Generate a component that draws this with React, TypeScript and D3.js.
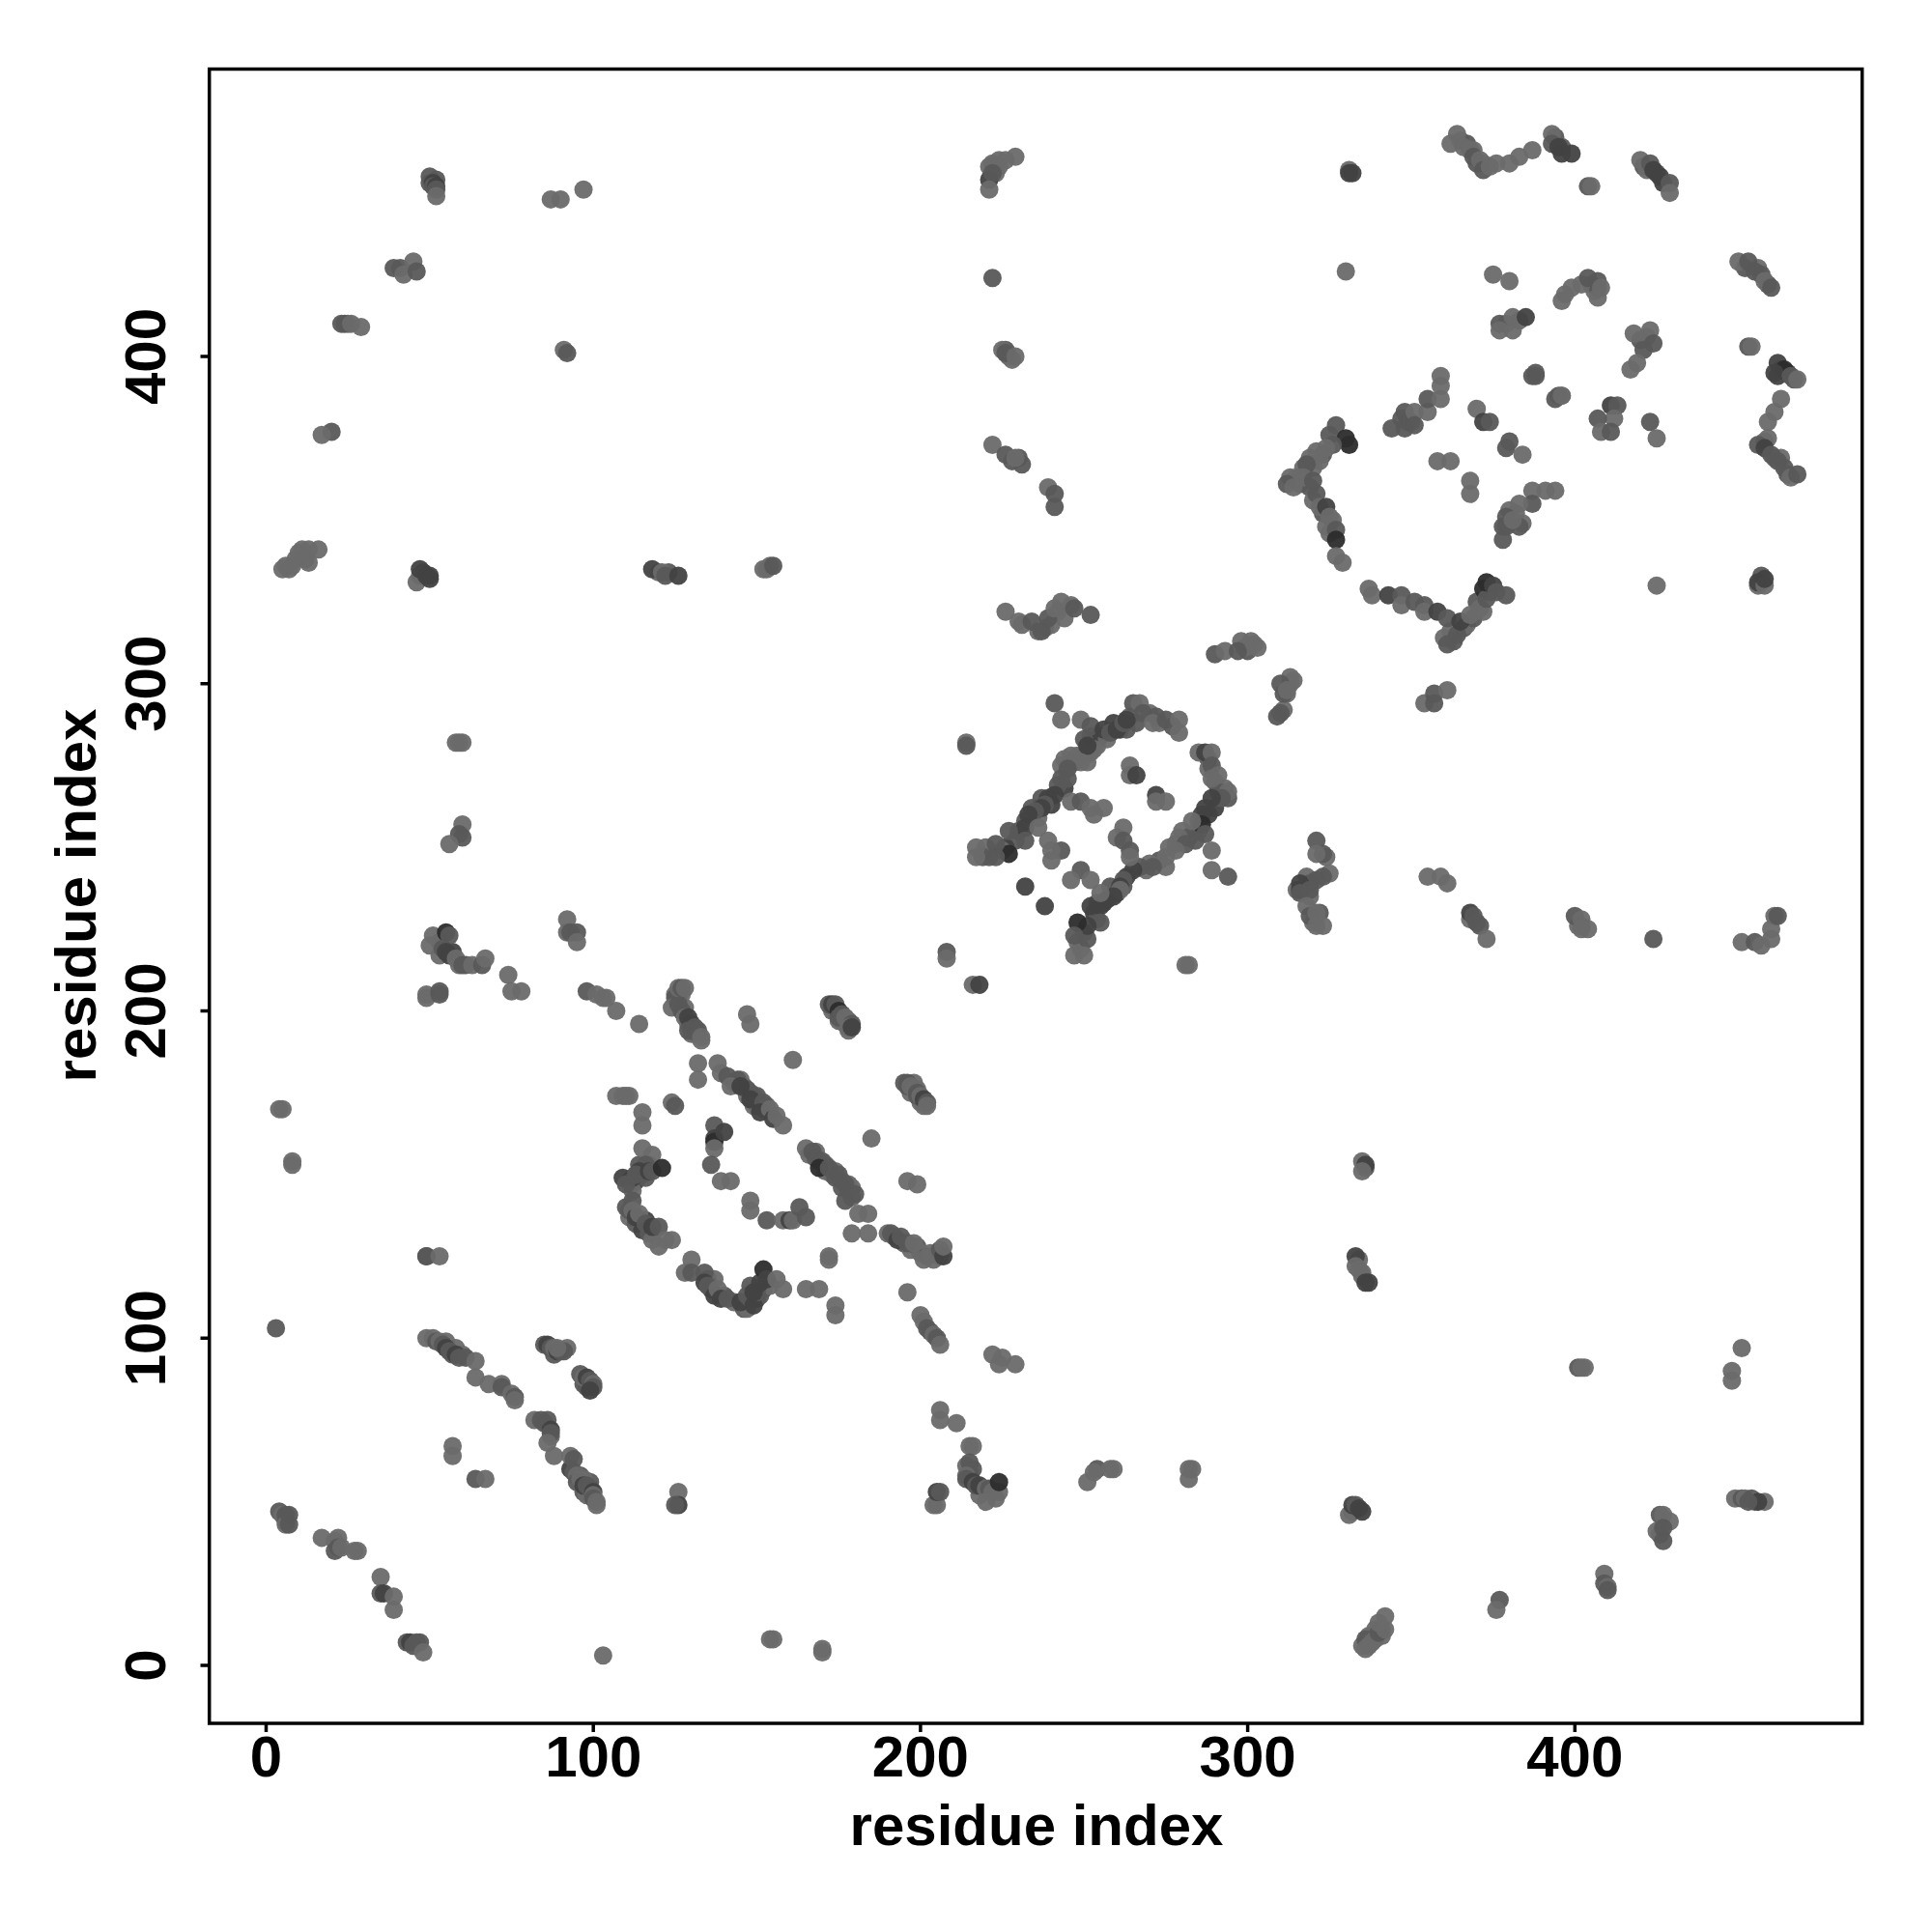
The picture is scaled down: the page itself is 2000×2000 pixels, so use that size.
import React from "react";
import * as d3 from "d3";

const tickValues = [0, 100, 200, 300, 400];
const axisLabel = "residue index";
const shades = ["#6a6a6a", "#585858", "#424242", "#2c2c2c"];

type C = number[];
const bottomLeft: C[] = [[4,47,1],[5,46],[6,46,1],[6,44,1],[6,43],[7,43,1],[7,46,1],[17,39],[21,38],[22,39],[22,36,1],[21,35,1],[23,36],[27,35],[28,35],[35,27],[35,22,1],[36,22,2],[39,21],[39,17],[43,7,1],[44,7,2],[45,6,1],[46,7,1],[47,7,1],[48,4],[103,3],[154,8],[155,8],[170,5],[170,4],[3,103,1],[8,154],[8,153],[4,170],[5,170],[49,125,2],[49,125,1],[53,125]];
const helixLow: C[] = [[49,100],[51,100],[52,99,1],[53,99],[54,98,1],[55,97,2],[56,96,1],[57,95,1],[58,95,2],[59,94,1],[61,94,1],[64,93],[64,88],[68,86],[72,86],[72,85,1],[75,83],[76,82,1],[76,81],[57,67],[57,64],[64,57,1],[67,57],[85,98,1],[86,98,2],[87,97,1],[88,97],[89,96,2],[90,96,1],[91,96,1],[89,97],[96,89,1],[97,88],[98,88,2],[99,87,1],[100,86],[100,85,1],[99,84,2],[82,75],[84,75,1],[85,74,1],[87,72,2],[87,71,1],[86,68],[88,64],[93,64],[94,63,1],[94,59,1],[95,58],[95,56,1],[96,57],[97,55,2],[98,55,1],[99,54,1],[100,53,2],[100,52],[100,51,1],[101,50],[101,49],[126,53],[126,49,2],[125,49,1],[204,49],[205,49],[205,53,2],[206,53,1]];
const lowerMid: C[] = [[206,78],[206,75],[211,74],[215,67],[216,67],[214,61],[215,62,1],[214,58],[214,57,1],[216,56,2],[217,55,1],[218,55,2],[220,54],[221,54,1],[222,53],[224,53],[224,56,3],[220,50],[222,95],[225,94],[224,92],[229,92],[196,114],[200,107],[201,105],[202,103,1],[203,102,1],[204,101],[205,100,1],[206,98],[254,60,1],[253,59],[258,60],[259,60],[251,56],[282,60],[282,57],[283,60],[331,46],[332,47],[332,49,2],[333,49,1],[334,48,2],[335,47,2],[335,6],[336,8,1],[337,6],[336,5],[338,7],[339,8],[340,10,1],[341,11,1],[342,11],[342,15],[340,13],[377,20,1],[376,17],[409,28],[409,25,1],[410,24],[410,23,1],[426,46,1],[427,46],[429,44],[425,41],[427,42,1],[427,38,1],[451,51,1],[452,51],[454,51,1],[455,50],[456,50,2],[453,50,1],[333,125,2],[333,122],[334,121],[335,120],[336,117,2],[337,117,2],[335,154],[336,153,2],[335,151],[401,91,1],[402,91],[403,91],[448,90],[448,87],[451,97]];
const leftColumn: C[] = [[58,282],[59,282],[60,282],[60,257],[59,254,1],[60,253,1],[56,251],[51,223],[55,224,3],[56,223,1],[50,220],[54,219,1],[55,218,2],[56,217,2],[58,216],[59,214],[60,214,1],[63,214],[66,214,1],[67,216],[74,211],[75,206],[78,206],[49,204],[49,205],[53,205,1],[53,206,1],[92,228],[92,224],[93,224,1],[95,224,1],[95,221],[98,206,1],[101,205],[103,204],[104,204],[107,200],[114,196]];
const sheetA: C[] = [[125,205],[125,204,1],[124,201],[126,202,1],[127,200,1],[128,198],[129,198,2],[130,196,2],[129,194,1],[131,195,1],[132,194,1],[132,193,1],[133,192],[133,191],[126,207],[127,207,1],[128,207],[132,184],[132,179],[138,184],[139,181],[141,180,1],[144,179,1],[142,177],[147,176,1],[145,177,2],[150,174,1],[149,171],[148,173,2],[152,172,1],[151,169,2],[154,170],[155,167,2],[156,168],[158,165],[147,199],[148,196],[161,185],[172,202,1],[173,202,2],[174,202,1],[175,200,3],[176,199,1],[175,198,1],[177,198],[178,197],[179,196,1],[178,195],[179,195,2],[208,218,1],[208,216],[216,208],[218,208,2],[195,178,1],[196,178,1],[196,177,1],[197,177],[198,176],[199,175,1],[199,174,1],[200,174],[201,173,2],[202,172,1],[202,171],[185,161],[196,148],[199,147],[165,158],[167,157,1],[168,155,1],[170,154,1],[169,152,3],[172,152,1],[174,149,1],[175,150,1],[177,147,1],[176,146,1],[180,144,1],[177,142,1],[181,138],[184,138],[179,132],[184,132],[190,132],[191,132,1],[193,130,2],[194,131,1],[196,129,1],[198,129],[201,124],[203,126],[206,127,1],[207,125,2],[207,128],[172,125],[172,124]];
const arcA: C[] = [[115,169],[115,165],[124,172],[125,171,1],[107,174],[109,174],[110,174],[111,174],[115,158],[118,156],[116,153,1],[114,151,2],[112,149,2],[109,149,2],[110,147,1],[113,150,1],[117,151,2],[118,151,1],[121,152,3],[112,142,1],[111,139,1],[112,139],[113,137,2],[114,138],[116,135,1],[118,134,2],[120,134,1],[124,130],[122,130],[120,128],[130,124],[128,120],[130,120,1],[134,120,1],[134,117,2],[135,116,1],[137,113,2],[138,115],[139,112,2],[141,112,1],[145,111,2],[147,113,1],[148,112,1],[149,110,2],[150,114,1],[149,114,2],[151,117,2],[152,121,3],[153,118,2],[156,118],[158,115],[165,115],[169,115],[174,110],[174,107],[137,165,1],[137,161,2],[137,160,3],[137,158],[136,153,1],[140,163,2],[139,148],[142,148],[148,142],[148,139],[153,136,1],[158,136],[160,136,2],[161,136],[163,140,1],[165,137,1]];
const ringB: C[] = [[241,294,1],[243,289],[249,289],[214,282],[214,281,1],[252,287,1],[256,286,2],[258,285,1],[260,286,2],[262,288,1],[263,289,2],[265,294,1],[267,294],[268,291,1],[272,290,1],[271,288],[275,289,1],[279,289],[279,285],[285,279],[287,279,2],[289,279],[289,275,1],[291,272],[289,271],[294,265,1],[294,267],[292,265,1],[289,265,2],[287,262,2],[286,260,2],[286,257,3],[283,258],[287,254,1],[284,252,1],[279,253],[281,251,1],[289,249],[289,243],[294,241,1],[278,249],[275,247],[275,244],[271,244,1],[267,244,1],[265,243,2],[262,240,1],[261,238,2],[261,237],[259,235,2],[256,233,2],[255,232,2],[252,232,2],[255,227,1],[251,222,1],[251,226,2],[248,227,3],[247,223,1],[247,217],[250,217],[232,238,2],[238,232,2],[249,243,1],[246,240],[252,240],[255,236],[262,256],[260,253],[262,252,1],[264,249,1],[264,247],[264,275],[264,272],[266,272,2],[272,266,2],[272,264],[275,264],[253,280],[250,283,1],[250,278],[251,281,2],[246,278],[249,276],[243,275],[245,274,1],[243,271,1],[245,271,1],[241,266,2],[239,265,2],[238,263,1],[237,262,2],[235,261,1],[233,260,2],[232,256,2],[232,252,1],[227,255,1],[227,248,3],[223,251,1],[223,247,1],[219,247,1],[217,250],[217,247],[246,264],[249,264,1],[252,262],[256,262],[253,260],[236,256],[239,252],[243,249,1],[240,246],[240,249]];
const midRight: C[] = [[321,252,1],[323,248,1],[321,248],[325,242],[323,241,1],[321,240,1],[319,239,1],[316,239,2],[316,236,1],[319,237,1],[318,232],[319,229,1],[321,230],[321,226],[323,226],[281,214],[282,214],[313,302],[313,300],[310,300,1],[311,297,1],[312,298],[310,291,1],[309,290,1],[290,309,1],[293,310],[298,313],[301,313],[297,310,1],[302,312],[226,322],[230,319],[234,319,1],[238,317],[237,316,1],[239,320,1],[241,323],[243,325],[247,323,1],[252,321,1]];
const ringC: C[] = [[327,379,1],[330,375,3],[331,373,3],[326,373,1],[324,372],[321,371],[319,369],[318,367,1],[315,363],[312,361,1],[314,360],[317,363],[320,362,1],[321,358,1],[322,354],[324,354,2],[325,351],[324,348],[327,347,1],[327,344,3],[327,339],[329,337],[337,329],[338,327],[343,327,2],[347,327,1],[347,324],[351,325,1],[354,324,1],[354,322],[358,322,2],[361,320,1],[360,314],[361,312,1],[364,315,1],[365,319,2],[368,321],[371,323],[373,326,1],[373,331,3],[375,330,2],[376,328,1],[379,327,1],[354,294],[357,294,1],[357,297,1],[361,298],[344,378,1],[348,383,1],[348,378,1],[351,383],[351,379,1],[355,383],[355,387,1],[359,387],[359,391],[359,394],[370,384],[372,380,2],[374,380,1],[380,374,1],[379,372,1],[384,370],[358,368],[362,368],[368,362],[368,358],[394,359],[391,359],[387,359],[387,355,1],[383,355],[383,348,1],[379,351,1],[378,348,1],[378,344,1],[381,350],[388,394,1],[394,387,1],[396,388],[411,385,2],[413,385,1],[412,381],[407,381,1],[408,377],[411,377,1],[423,380,1],[425,375],[425,330]];
const topLeft: C[] = [[50,455,1],[51,453,2],[51,452,1],[52,452,2],[52,451,1],[52,449],[87,448],[90,448],[97,451],[39,427,1],[41,427,1],[42,425],[45,429],[46,426,1],[23,410,1],[26,410],[29,409],[91,402],[92,401,1],[20,377,1],[17,376],[5,335],[7,335],[8,336],[10,340],[13,341],[13,337],[16,341],[46,331],[47,335,2],[49,333,2],[50,332,2],[118,335,2],[121,334],[122,333,1],[126,333,2],[152,335],[155,336,1],[221,458],[224,460],[226,460],[229,461],[221,454,2],[222,456,1],[221,451],[222,424,1],[225,402],[226,401,1],[229,400],[231,367,1],[222,373],[226,370,1],[229,369],[239,360],[241,358,1],[241,354,1],[331,457],[331,456,2],[332,456,2],[330,426]];
const topRight: C[] = [[364,468],[362,465],[366,464],[368,463],[369,461,1],[371,460],[372,457,1],[374,458],[376,459],[380,459],[383,461],[387,463],[393,468],[393,465,1],[395,464,2],[396,462,2],[399,462,2],[404,452,1],[405,452],[420,460],[423,459,1],[424,457,2],[426,455,2],[429,453,1],[429,450],[375,425],[380,423],[450,429],[453,429,1],[455,426,1],[457,425,1],[458,423],[460,421,1],[397,419],[396,417],[399,421],[402,422],[404,424,1],[407,418],[407,423,1],[408,421],[377,410,1],[377,408],[381,408],[381,412],[385,412,2],[388,395,1],[387,394,1],[395,388,1],[396,388],[418,407],[423,408],[424,404,1],[421,402,1],[419,398],[417,396],[453,403,1],[454,403],[462,398,2],[464,396,3],[461,395,2],[466,394,1],[468,393],[463,387],[461,383],[459,380],[459,375],[456,373,1],[458,372,2],[460,370,1],[462,368,1],[464,366,1],[466,363],[468,364,1],[456,331,2],[458,330],[458,332,2],[355,241],[359,241],[361,239],[368,230,2],[369,229,1],[370,227,1],[371,226,1],[373,222],[400,229,1],[402,228],[402,225],[404,225],[424,222,1],[451,221],[455,221,1],[457,220],[460,222],[460,225],[461,229],[462,229,1]];
const strandFill: C[] = [[143,178],[145,179],[146,177],[148,175],[149,174],[151,172],[152,170],[153,171],[150,171],[147,174],[166,156],[168,157],[169,154],[171,153],[171,151],[173,150],[174,151],[176,148],[178,147],[178,145],[179,143],[179,146],[173,200],[174,200],[175,197],[176,197],[177,196],[178,194],[197,175],[198,178],[199,176],[200,172],[201,172],[201,171],[126,205],[127,205],[126,204],[128,201],[129,196],[131,193],[130,193]];
const arcFill: C[] = [[112,147,1],[111,148,2],[113,148,2],[114,153,1],[115,150,2],[116,149,1],[117,153],[112,145],[110,140,1],[111,137],[113,135,1],[115,133,2],[117,132,1],[118,130],[116,136,2],[135,118,1],[136,115,2],[137,118],[140,113,1],[143,111],[146,109,1],[147,109],[148,116,1],[150,112,2],[151,113,1],[152,115,1],[154,116],[192,131,1],[195,129,1],[197,127],[199,128,1],[200,126],[202,125,1],[204,124],[205,126,1],[206,125]];
const ringFill: C[] = [[244,277],[247,276,1],[248,278],[251,276],[252,279],[254,283,1],[254,281],[252,284],[255,284,2],[257,283],[259,288,2],[261,286,2],[263,286,1],[264,290],[266,288,1],[270,291],[273,288],[277,287,1],[288,277,1],[288,274],[290,270],[293,268],[291,267,1],[290,262,2],[288,260,2],[285,258,1],[285,255,1],[283,254],[280,255],[282,253,1],[278,251],[276,250],[273,246,1],[270,245],[269,243],[263,241,2],[262,238,1],[260,236,2],[258,238,1],[257,234,2],[254,233,1],[253,230,2],[254,228,1],[250,224,1],[248,221],[249,219],[244,268,2],[242,269,1],[240,263,2],[237,265,1],[236,259],[234,262,1],[232,258,1],[230,255,1],[229,252,1],[226,250,2],[225,249],[221,247,1],[220,250],[325,376,1],[323,370,1],[322,368],[320,366],[317,366],[316,361,1],[313,363],[319,360,1],[320,356],[323,352,1],[326,350],[325,346],[362,316],[363,313,1],[366,317,1],[367,318],[369,320,1],[370,325,1],[372,322],[374,328,2],[372,329,3],[349,380,1],[350,380],[347,381,1],[379,348,1],[380,353],[382,352],[384,349]];
const edgeFill: C[] = [[365,466],[367,465,1],[369,463],[370,459,1],[372,459],[394,467,1],[396,464,1],[421,458,1],[422,457],[425,456,1],[427,453,2],[452,427,1],[456,427],[459,422,1],[463,396,2],[465,395,2],[467,393,1],[462,394,2],[458,374],[461,369],[463,369],[465,364,1],[456,330],[457,333,1],[405,422],[406,420],[407,421,1],[379,410],[383,411],[420,405,1],[422,406],[50,453,1],[52,454,1],[222,459],[223,456],[224,458],[48,334,2],[47,333],[50,333,2],[6,336],[9,338],[12,338,1],[11,341],[120,334],[123,334,1],[154,336],[153,335],[25,410],[24,410,1],[227,400],[228,399],[226,402,1],[228,368,1],[230,369,1],[55,99],[58,97],[60,95],[96,58,1],[97,53,1],[99,56,1],[97,57],[98,52],[93,60,2],[88,95,1],[92,97],[97,86,1],[98,85,1],[86,75,1],[87,70],[57,218,2],[53,221,1],[53,217],[61,214,1],[335,119],[334,124],[336,152,1],[218,52],[223,51],[216,60,1],[215,59,1],[337,9],[339,11],[341,9],[426,40,1],[458,50],[449,51],[402,226],[401,226],[368,228],[319,235],[315,237],[316,237,2],[318,241],[324,247],[322,230,1],[320,227],[311,292],[314,301],[312,297],[231,318],[236,316],[240,318],[242,322],[244,320],[246,324],[300,310,1],[303,311],[299,311]];

const contacts: C[] = [...strandFill, ...arcFill, ...ringFill, ...edgeFill, ...bottomLeft, ...helixLow, ...lowerMid, ...leftColumn, ...sheetA, ...arcA, ...ringB, ...midRight, ...ringC, ...topLeft, ...topRight];

const x = d3.scaleLinear().domain([0, 400]).range([275.5, 1630.3]);
const y = d3.scaleLinear().domain([0, 400]).range([1724, 369]);
const fontFamily = "'Liberation Sans', Arial, sans-serif";

export default function App() {
  return (
    <svg width={2000} height={2000} style={{ position: "absolute", left: 0, top: 0, background: "#fff" }} fontFamily={fontFamily} fontWeight="bold">
      {contacts.map(([cx, cy, s], i) => (
        <circle key={i} cx={x(cx)} cy={y(cy)} r={9.5} fill={shades[s ?? 0]} fillOpacity={0.95} />
      ))}
      <rect x={216.7} y={71.5} width={1711} height={1712.5} fill="none" stroke="#000" strokeWidth={3.5} />
      {tickValues.map((t) => (
        <g key={t}>
          <line x1={x(t)} x2={x(t)} y1={1784} y2={1793} stroke="#000" strokeWidth={3.5} />
          <text x={x(t)} y={1839} fontSize={60} textAnchor="middle" fill="#000">{t}</text>
          <line x1={207.5} x2={216.7} y1={y(t)} y2={y(t)} stroke="#000" strokeWidth={3.5} />
          <text transform={`translate(171,${y(t)}) rotate(-90)`} fontSize={60} textAnchor="middle" fill="#000">{t}</text>
        </g>
      ))}
      <text x={1073} y={1910} fontSize={60} textAnchor="middle" fill="#000">{axisLabel}</text>
      <text transform="translate(99,927) rotate(-90)" fontSize={60} textAnchor="middle" fill="#000">{axisLabel}</text>
    </svg>
  );
}
